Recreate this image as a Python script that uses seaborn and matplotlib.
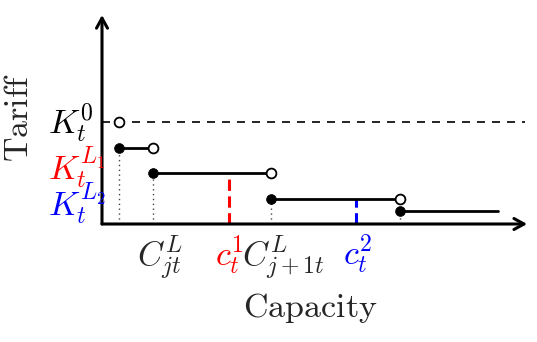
import matplotlib
matplotlib.use("Agg")
import matplotlib.pyplot as plt
import seaborn as sns
import pandas as pd

# ---- data (arbitrary units of the sketch) ----
breaks = [0.4, 1.2, 4.0, 7.05]          # capacity thresholds C^L_j
levels = [3.0, 2.0, 1.0, 0.5]           # tariff on each step
step_end = 9.35
k0 = 4.0                                 # base tariff K_t^0
c_demand = [3.0, 6.0]                    # c_t^1, c_t^2
c_top = [1.75, 1.0]
c_colors = ["red", "blue"]

sns.set_theme(style="white")
plt.rcParams["mathtext.fontset"] = "cm"
plt.rcParams["font.family"] = ["DejaVu Sans"]

fig = plt.figure(figsize=(5.37, 3.42), dpi=100)
ax = fig.add_axes([0.18994, 0.34503, 0.78771, 0.61111])
ax.set_xlim(0, 10)
ax.set_ylim(0, 8.2)
sns.despine(ax=ax, left=True, bottom=True)
ax.set_xticks([])
ax.set_yticks([])

# axes with arrows
arrow = dict(arrowstyle="->,head_length=0.6,head_width=0.33", lw=2.2, color="black",
             shrinkA=0, shrinkB=0)
ax.annotate("", xy=(10.05, 0), xytext=(0, 0), arrowprops=arrow, annotation_clip=False)
ax.annotate("", xy=(0, 8.2), xytext=(0, 0), arrowprops=arrow, annotation_clip=False)

# base tariff dashed line
ax.plot([0, 10], [k0, k0], color="black", lw=1.2, ls=(0, (4.8, 4.2)), zorder=2)

# step segments
ends = breaks[1:] + [step_end]
seg = pd.DataFrame({
    "x": [v for a, b in zip(breaks, ends) for v in (a, b)],
    "y": [v for l in levels for v in (l, l)],
    "seg": [i for i in range(len(levels)) for _ in range(2)],
})
sns.lineplot(data=seg, x="x", y="y", units="seg", estimator=None,
             color="black", lw=2.0, ax=ax, zorder=3)

# dotted drops to the capacity axis
for b, l in zip(breaks, levels):
    ax.plot([b, b], [0, l], color="#444444", lw=1.0, ls=(0, (1, 2.5)), zorder=1)

# demand markers
for c, t, col in zip(c_demand, c_top, c_colors):
    ax.plot([c, c], [0, t], color=col, lw=2.2, ls=(0, (3.7, 1.8)), zorder=2)

# open / closed endpoints
open_y = [k0] + levels[:-1]
sns.scatterplot(x=breaks, y=open_y, ax=ax, s=50, color="white",
                edgecolor="black", linewidth=1.3, zorder=5, clip_on=False)
sns.scatterplot(x=breaks, y=levels, ax=ax, s=50, color="black",
                edgecolor="black", linewidth=0.5, zorder=5, clip_on=False)

# tariff labels
mfs = 24.5
ax.text(-1.28, 3.97, r"$K_t^0$", color="black", fontsize=mfs, ha="left", va="center", clip_on=False)
ax.text(-1.28, 2.2, r"$K_t^{L_1}$", color="red", fontsize=mfs, ha="left", va="center", clip_on=False)
ax.text(-1.28, 0.76, r"$K_t^{L_2}$", color="blue", fontsize=mfs, ha="left", va="center", clip_on=False)

# capacity labels
ax.text(0.83, -1.61, r"$C_{jt}^L$", fontsize=mfs, ha="left", va="baseline", clip_on=False)
ax.text(2.67, -1.61, r"$c_t^1$", color="red", fontsize=mfs, ha="left", va="baseline", clip_on=False)
ax.text(3.31, -1.61, r"$C_{j+1t}^L$", fontsize=mfs, ha="left", va="baseline", clip_on=False)
ax.text(5.70, -1.61, r"$c_t^2$", color="blue", fontsize=mfs, ha="left", va="baseline", clip_on=False)

# axis titles
ax.text(4.92, -3.65, r"$\mathrm{Capacity}$", fontsize=24.5, ha="center", va="baseline", clip_on=False)
fig.text(0.034, 0.658, r"$\mathrm{Tariff}$", fontsize=24.5, rotation=90, ha="center", va="center")

fig.savefig("out.png", dpi=100)
